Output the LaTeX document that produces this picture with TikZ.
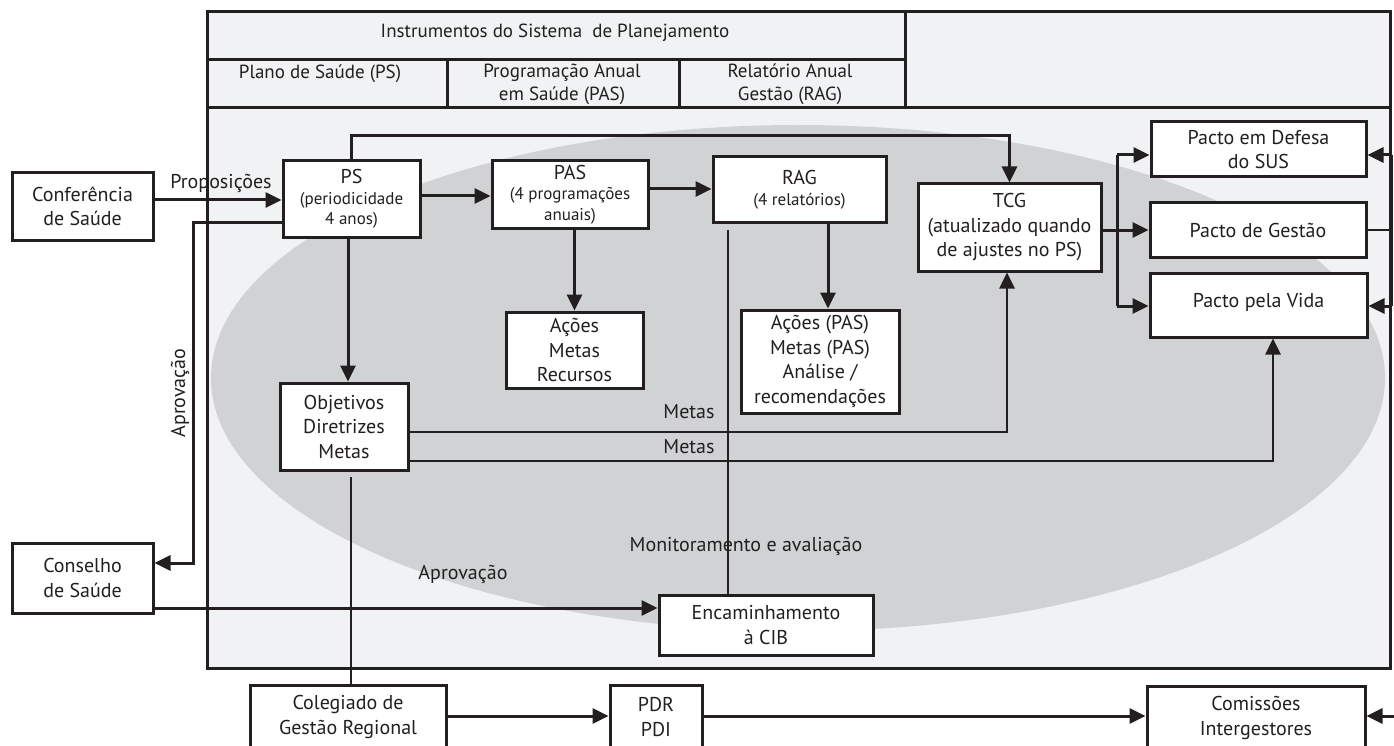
\documentclass[tikz,border=0pt]{standalone}
\usepackage{fontspec}
\setmainfont{PT Sans}
\usetikzlibrary{arrows.meta}
\definecolor{ink}{HTML}{231F20}
\definecolor{bgray}{HTML}{F1F2F3}
\definecolor{egray}{HTML}{D1D2D4}
\newcommand{\smtxt}{\fontsize{17}{21}\selectfont}
\tikzset{
  box/.style={draw=ink, line width=3pt, fill=white, align=center, inner sep=0pt, text=ink,
    font=\fontsize{20}{24.5}\selectfont},
  arr/.style={draw=ink, line width=3pt, -{Triangle[length=16pt,width=15pt]}},
  ln/.style={draw=ink, line width=3pt},
  thinln/.style={draw=ink, line width=2.2pt},
  thinarr/.style={draw=ink, line width=2.6pt, -{Triangle[length=16pt,width=15pt]}},
  lbl/.style={text=ink, font=\fontsize{20}{24}\selectfont, inner sep=0pt},
  hlbl/.style={text=ink, font=\fontsize{19}{23}\selectfont, inner sep=0pt, align=center},
}
\begin{document}
\begin{tikzpicture}[x=1pt,y=-1pt]
\useasboundingbox (0,0) rectangle (1394,746);
\clip (0,0) rectangle (1394,746);
% frame and header
\filldraw[fill=bgray, draw=ink, line width=3pt] (207,12) rectangle (1390,668);
\draw[ln] (207,60) -- (905,60);
\draw[ln] (207,108) -- (1390,108);
\draw[ln] (905,12) -- (905,108);
\draw[ln] (447,60) -- (447,108);
\draw[ln] (679,60) -- (679,108);
\node[hlbl] (hd) at (555,33) {Instrumentos do Sistema\ \ de Planejamento};
\node[hlbl] (h1) at (320,74) {Plano de Saúde (PS)};
\node[hlbl] (h2) at (562,84) {Programação Anual\\em Saúde (PAS)};
\node[hlbl] (h3) at (790,84) {Relatório Anual\\Gestão (RAG)};
% ellipse
\fill[egray] (798,378) ellipse [x radius=587, y radius=253];
% nodes
\node[box, minimum width=141pt, minimum height=67pt] (conf) at (82.5,206.5) {Conferência\\de Saúde};
\node[box, minimum width=141pt, minimum height=70pt] (cons) at (82.5,578) {Conselho\\de Saúde};
\node[box, minimum width=137pt, minimum height=76pt] (ps) at (351.5,199) {PS\\[-4pt]{\smtxt (periodicidade}\\[-4pt]{\smtxt 4 anos)}};
\node[box, minimum width=156pt, minimum height=67pt] (pas) at (570,194.5) {PAS\\[-4pt]{\smtxt (4 programações}\\[-4pt]{\smtxt anuais)}};
\node[box, minimum width=173pt, minimum height=65pt] (rag) at (799.5,189.5) {RAG\\[-4pt]{\smtxt (4 relatórios)}};
\node[box, minimum width=183pt, minimum height=87pt] (tcg) at (1009.5,227.5) {TCG\\(atualizado quando\\de ajustes no PS)};
\node[box, minimum width=215pt, minimum height=55pt] (def) at (1258.5,149.5) {Pacto em Defesa\\do SUS};
\node[box, minimum width=216pt, minimum height=54pt] (ges) at (1258,230) {Pacto de Gestão};
\node[box, minimum width=217pt, minimum height=64pt, text depth=10pt] (vida) at (1258.5,305) {Pacto pela Vida};
\node[box, minimum width=137pt, minimum height=76pt] (amr) at (574.5,350) {Ações\\Metas\\Recursos};
\node[box, minimum width=158pt, minimum height=103pt] (apas) at (820,361.5) {Ações (PAS)\\Metas (PAS)\\Análise /\\recomendações};
\node[box, minimum width=128pt, minimum height=87pt] (obj) at (344,426.5) {Objetivos\\Diretrizes\\Metas};
\node[box, minimum width=214pt, minimum height=60pt] (enc) at (766,625) {Encaminhamento\\à CIB};
\node[box, minimum width=196pt, minimum height=64pt] (col) at (348,717) {Colegiado de\\Gestão Regional};
\node[box, minimum width=92pt, minimum height=64pt] (pdr) at (656,717) {PDR\\PDI};
\node[box, minimum width=218pt, minimum height=64pt] (com) at (1256,718) {Comissões\\Intergestores};
% helper coordinates
\coordinate (yprop) at (0,200);
\coordinate (apr1) at (193,222);
\coordinate (apr2) at (193,563);
\coordinate (yenc) at (0,608);
\coordinate (top1) at (351,136);
\coordinate (ypp) at (0,196);
\coordinate (ypr) at (0,189);
\coordinate (xr) at (828,0);
\coordinate (xo) at (348,0);
\coordinate (m1) at (1007,432);
\coordinate (m2) at (1273,461);
\coordinate (mon) at (728,230);
\coordinate (oc) at (351,477);
\coordinate (br1) at (1117,155);
\coordinate (br2) at (1117,306);
\coordinate (rb1) at (1391,155);
\coordinate (rb2) at (1391,306);
\coordinate (yb) at (0,716);
\coordinate (redge) at (1394,716);
% connectors
\draw[arr] (conf.east |- yprop) -- (ps.west |- yprop);
\draw[arr] (ps.west |- apr1) -- (apr1) -- (apr2) -- (cons.east |- apr2);
\draw[arr] (cons.east |- yenc) -- (enc.west |- yenc);
\draw[arr] (ps.north) -- (ps.north |- top1) -| (tcg.north);
\draw[arr] (ps.east |- ypp) -- (pas.west |- ypp);
\draw[arr] (pas.east |- ypr) -- (rag.west |- ypr);
\draw[arr] (amr.north |- pas.south) -- (amr.north);
\draw[arr] (xr |- rag.south) -- (xr |- apas.north);
\draw[arr] (xo |- ps.south) -- (xo |- obj.north);
\draw[thinarr] (obj.east |- m1) -| (m1 |- tcg.south);
\draw[thinarr] (obj.east |- m2) -| (m2 |- vida.south);
\draw[thinln] (mon) -- (mon |- enc.north);
\draw[thinln] (oc) -- (oc |- col.north);
\draw[arr] (tcg.east |- ges.west) -- (ges.west);
\draw[ln] (br1) -- (br2);
\draw[arr] (br1) -- (def.west |- br1);
\draw[arr] (br2) -- (vida.west |- br2);
\draw[thinln] (ges.east) -- (rb1 |- ges.east);
\draw[ln] (rb1) -- (rb2);
\draw[arr] (rb1) -- (def.east |- rb1);
\draw[arr] (rb2) -- (vida.east |- rb2);
\draw[arr] (col.east |- yb) -- (pdr.west |- yb);
\draw[arr] (pdr.east |- yb) -- (com.west |- yb);
\draw[arr] (redge) -- (com.east |- redge);
% labels
\node[lbl] (lprop) at (221,183) {Proposições};
\node[lbl, rotate=90] (lapr1) at (180,393) {Aprovação};
\node[lbl] (lapr2) at (463,574) {Aprovação};
\node[lbl] (lmet1) at (689,412) {Metas};
\node[lbl] (lmet2) at (689,447) {Metas};
\node[lbl] (lmon) at (746,546) {Monitoramento e avaliação};
\end{tikzpicture}
\end{document}
